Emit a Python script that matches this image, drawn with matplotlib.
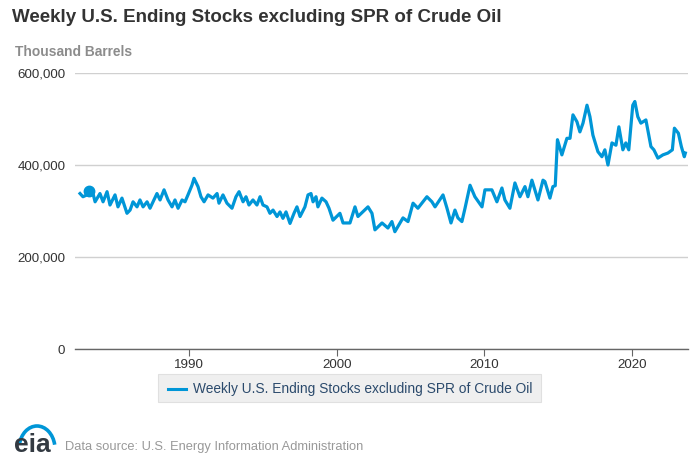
import matplotlib.pyplot as plt
from matplotlib.patches import Arc, FancyBboxPatch
from matplotlib.ticker import FuncFormatter

plt.rcParams['font.family'] = ['Liberation Sans', 'DejaVu Sans']

# values (decimal year, thousand barrels)
years = [
    1982.62, 1982.82, 1983.09, 1983.23, 1983.50, 1983.64, 1983.97, 1984.18,
    1984.45, 1984.65, 1984.99, 1985.19, 1985.46, 1985.80, 1986.01, 1986.21,
    1986.48, 1986.68, 1986.89, 1987.16, 1987.36, 1987.83, 1988.04, 1988.31,
    1988.58, 1988.85, 1989.05, 1989.26, 1989.53, 1989.73, 1989.93, 1990.20,
    1990.34, 1990.61, 1990.81, 1991.02, 1991.29, 1991.62, 1991.90, 1992.03,
    1992.30, 1992.57, 1992.91, 1993.18, 1993.39, 1993.66, 1993.86, 1994.06,
    1994.33, 1994.60, 1994.81, 1995.01, 1995.28, 1995.48, 1995.69, 1995.96,
    1996.16, 1996.36, 1996.57, 1996.84, 1997.11, 1997.31, 1997.52, 1997.85,
    1998.06, 1998.26, 1998.40, 1998.60, 1998.73, 1999.00, 1999.28, 1999.48,
    1999.75, 2000.22, 2000.43, 2000.90, 2001.24, 2001.44, 2002.12, 2002.39,
    2002.59, 2003.07, 2003.47, 2003.74, 2003.94, 2004.49, 2004.83, 2005.17,
    2005.50, 2006.11, 2006.45, 2006.66, 2007.20, 2007.47, 2007.74, 2008.01,
    2008.21, 2008.48, 2008.69, 2009.03, 2009.36, 2009.84, 2010.04, 2010.51,
    2010.85, 2011.19, 2011.39, 2011.73, 2012.07, 2012.41, 2012.75, 2012.95,
    2013.22, 2013.63, 2013.97, 2014.10, 2014.44, 2014.64, 2014.80, 2014.95,
    2015.25, 2015.59, 2015.80, 2016.00, 2016.27, 2016.47, 2016.68, 2016.95,
    2017.15, 2017.35, 2017.69, 2017.96, 2018.16, 2018.37, 2018.64, 2018.91,
    2019.11, 2019.38, 2019.58, 2019.78, 2020.05, 2020.19, 2020.39, 2020.60,
    2020.94, 2021.28, 2021.48, 2021.75, 2022.09, 2022.43, 2022.73, 2022.87,
    2023.14, 2023.34, 2023.54, 2023.61,
]
stocks = [
    338, 331, 335, 344, 338, 320, 338, 320,
    342, 313, 335, 309, 328, 295, 302, 320,
    309, 324, 309, 320, 306, 338, 324, 346,
    324, 309, 324, 306, 324, 320, 335, 356,
    371, 353, 331, 320, 335, 328, 338, 317,
    335, 317, 306, 331, 342, 320, 331, 313,
    324, 313, 331, 313, 309, 295, 302, 288,
    298, 284, 298, 273, 295, 309, 288, 309,
    335, 338, 320, 331, 309, 328, 320, 306,
    280, 295, 274, 274, 309, 288, 309, 295,
    259, 274, 263, 277, 255, 285, 277, 317,
    306, 331, 320, 309, 335, 306, 274, 302,
    285, 277, 306, 356, 331, 309, 346, 346,
    320, 350, 324, 306, 361, 331, 353, 331,
    367, 324, 367, 364, 328, 353, 355, 455,
    422, 458, 458, 509, 494, 472, 491, 530,
    505, 465, 429, 418, 433, 400, 448, 443,
    483, 433, 448, 433, 530, 538, 505, 491,
    498, 440, 433, 415, 422, 426, 433, 480,
    469, 440, 418, 426,
]
stocks_kb = [v * 1000 for v in stocks]

series_name = "Weekly U.S. Ending Stocks excluding SPR of Crude Oil"
highlight_year = 1983.23
highlight_value = 344000

blue = "#0096d7"

fig = plt.figure(figsize=(7, 4.67), dpi=100)
ax = fig.add_axes([75 / 700, 118 / 467, 613 / 700, 276 / 467])

ax.plot(years, stocks_kb, color=blue, lw=2.3, solid_joinstyle="round", zorder=3)
ax.plot([highlight_year], [highlight_value], "o", color=blue, ms=7.5, zorder=4)

ax.set_xlim(1982.28, 2023.79)
ax.set_ylim(0, 600000)
ax.set_yticks([0, 200000, 400000, 600000])
ax.yaxis.set_major_formatter(FuncFormatter(lambda v, p: f"{int(v):,}"))
ax.set_xticks([1990, 2000, 2010, 2020])

ax.grid(axis="y", color="#d0d0d0", lw=1)
ax.set_axisbelow(True)
for side in ["top", "right", "left"]:
    ax.spines[side].set_visible(False)
ax.spines["bottom"].set_color("#666666")
ax.spines["bottom"].set_linewidth(1)
ax.tick_params(axis="y", length=0, pad=7, labelsize=9.6, labelcolor="#333333")
ax.tick_params(axis="x", length=5, color="#666666", pad=2, labelsize=9.6,
               labelcolor="#333333")

fig.text(12 / 700, 1 - 18 / 467, series_name, fontsize=13.5, weight="bold",
         color="#333333", va="center")
fig.text(15 / 700, 1 - 52 / 467, "Thousand Barrels", fontsize=9.9,
         weight="bold", color="#8c8c8c", va="center")

# legend box
box = FancyBboxPatch((158 / 700, 1 - 402 / 467), 383 / 700, 28 / 467,
                     boxstyle="square,pad=0", transform=fig.transFigure,
                     facecolor="#efefef", edgecolor="#e0e0e0", lw=0.8)
fig.patches.append(box)
fig.lines.append(plt.Line2D([168 / 700, 186 / 700], [1 - 389 / 467] * 2,
                            transform=fig.transFigure, color=blue, lw=2.2))
fig.text(193 / 700, 1 - 389 / 467, series_name, fontsize=9.95,
         color="#2b4a6c", va="center")

# eia logo and source
fig.text(14 / 700, 1 - 445 / 467, "eia", fontsize=19, color="#333a42",
         va="center", weight="bold")
arc = Arc((37 / 700, 1 - 449 / 467), 36 / 700, 46 / 467, theta1=20,
          theta2=160, transform=fig.transFigure, color=blue, lw=2.6)
fig.patches.append(arc)
fig.text(65 / 700, 1 - 447 / 467,
         "Data source: U.S. Energy Information Administration",
         fontsize=9.25, color="#999999", va="center")

fig.savefig("out.png", dpi=100)
